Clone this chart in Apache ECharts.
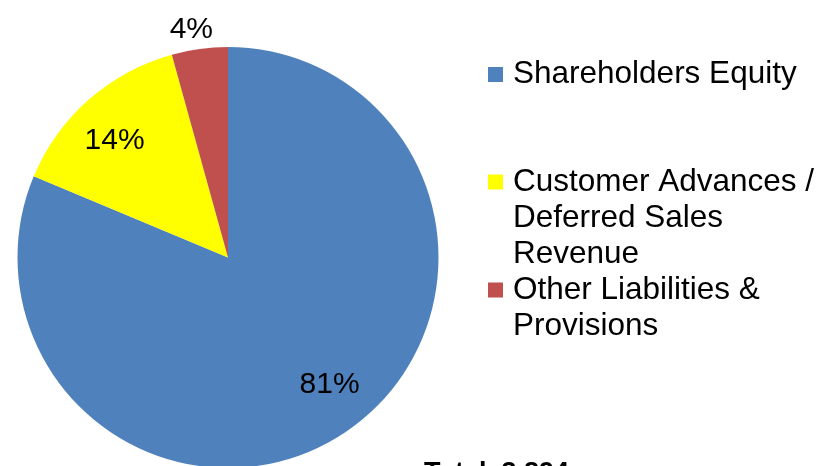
<!DOCTYPE html>
<html>
<head>
<meta charset="utf-8">
<script src="https://cdn.jsdelivr.net/npm/echarts@6/dist/echarts.min.js"></script>
<style>html,body{margin:0;padding:0;background:#fff;}#c{width:820px;height:466px;}</style>
</head>
<body>
<div id="c"></div>
<script>
const categories = ['Shareholders Equity', 'Customer Advances / Deferred Sales Revenue', 'Other Liabilities & Provisions'];
const legendLabels = ['Shareholders Equity', 'Customer Advances /\nDeferred Sales\nRevenue', 'Other Liabilities &\nProvisions'];
const values = [81.3, 14.4, 4.3];
const colors = ['#4F81BD', '#FFFF00', '#C0504D'];
const totalText = 'Total  3,894  crore';

const FONT = '"Liberation Sans", Arial, sans-serif';
const chart = echarts.init(document.getElementById('c'));
const data = categories.map((n, i) => ({ name: n, value: values[i], itemStyle: { color: colors[i] } }));
const fmt = p => Math.round(p.value) + '%';
// align the legend icon with the first line of a wrapped label
const labelFmt = name => {
  const t = legendLabels[categories.indexOf(name)];
  const n = t.split('\n').length;
  return '\n'.repeat(n - 1) + t;
};
const labelShift = [[9, -12], [-3, 9], [-5, 5]];

function legendFor(i, top) {
  return {
    data: [categories[i]], left: 488, top: top, orient: 'vertical', padding: 0,
    itemWidth: 15, itemHeight: 15, icon: 'rect', selectedMode: false,
    formatter: labelFmt,
    textStyle: { fontFamily: FONT, fontSize: 31.5, lineHeight: 36, color: '#000', padding: [0, 0, 0, 5] }
  };
}

function labelSeries(radius, show) {
  return {
    type: 'pie', center: [228, 257.5], radius: radius, startAngle: 90, clockwise: true,
    avoidLabelOverlap: false, silent: true, z: 3,
    itemStyle: { color: 'rgba(0,0,0,0)', borderWidth: 0 },
    label: { show: true, position: 'inside', formatter: fmt, fontFamily: FONT, fontSize: 30, color: '#000' },
    labelLine: { show: false },
    labelLayout: p => ({ dx: labelShift[p.dataIndex][0], dy: labelShift[p.dataIndex][1] }),
    data: categories.map((n, i) => ({ name: n, value: values[i], label: { show: show(i) }, itemStyle: { color: 'rgba(0,0,0,0)' } }))
  };
}

chart.setOption({
  animation: false,
  backgroundColor: '#fff',
  color: colors,
  legend: [legendFor(0, 56.5), legendFor(1, 92), legendFor(2, 236)],
  graphic: [{
    type: 'text', left: 424, top: 460,
    style: { text: totalText, font: 'bold 27px ' + FONT, fill: '#000' }
  }],
  series: [
    {
      type: 'pie', center: [228, 257.5], radius: 210.5, startAngle: 90, clockwise: true,
      avoidLabelOverlap: false, silent: true,
      itemStyle: { borderWidth: 0 },
      label: { show: false }, labelLine: { show: false },
      data: data
    },
    labelSeries(328, i => i < 2),
    labelSeries(464, i => i === 2)
  ]
});
</script>
</body>
</html>
